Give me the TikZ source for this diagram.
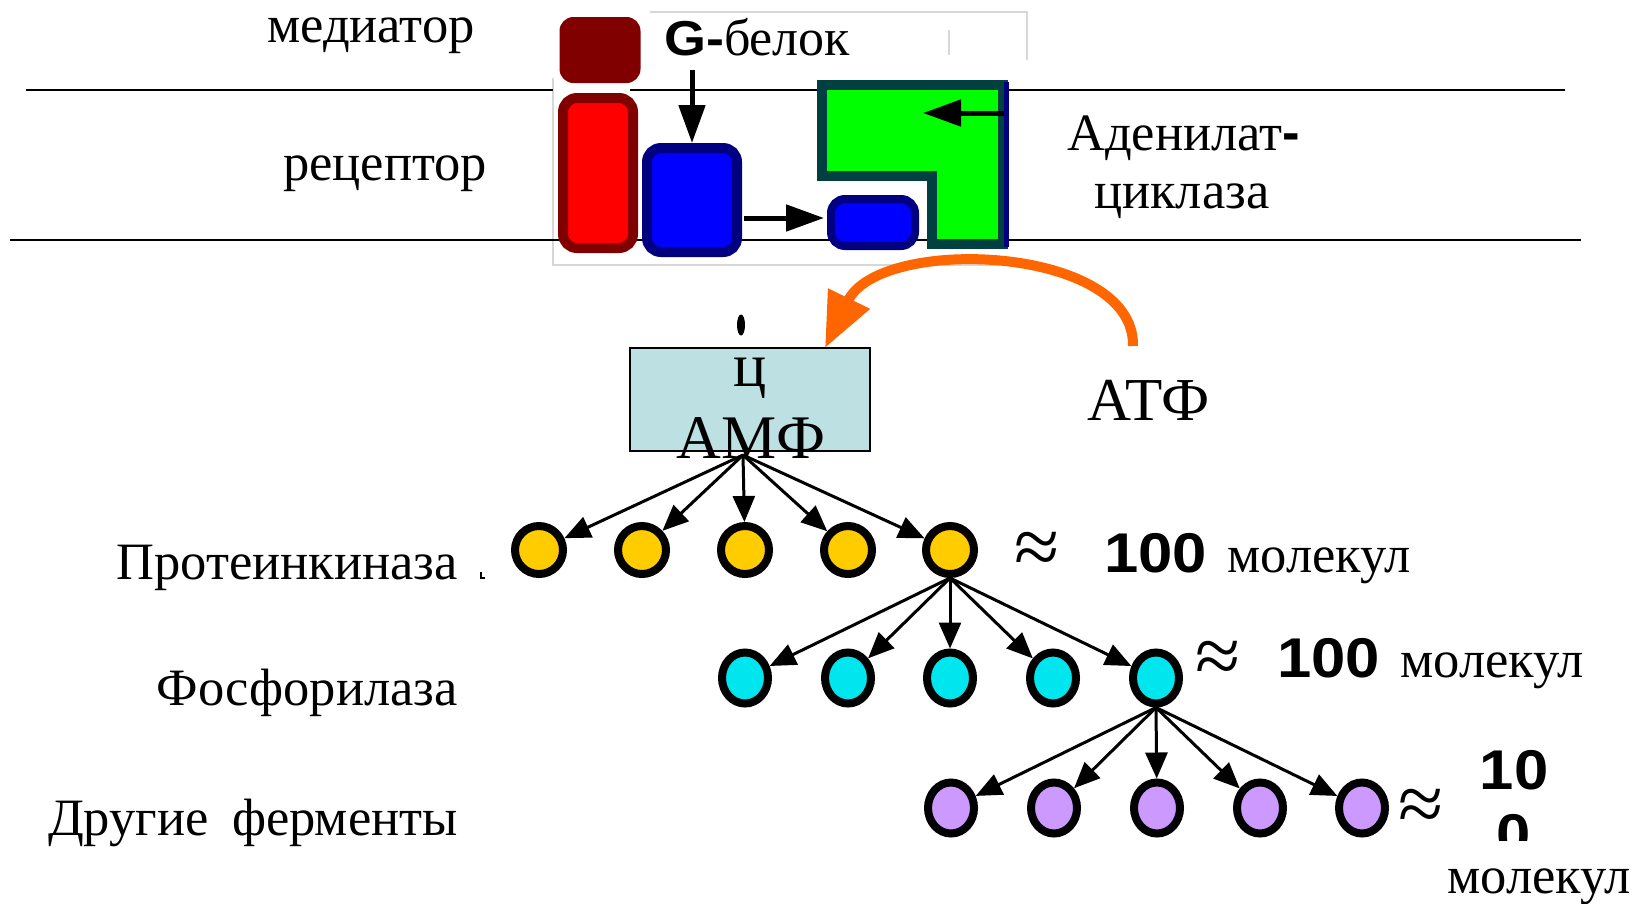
\documentclass[tikz,border=0pt]{standalone}
\usepackage{fontspec}
\setmainfont{Liberation Serif}
\setsansfont{Liberation Sans}
\usetikzlibrary{arrows.meta,shapes.geometric}

\definecolor{medcol}{RGB}{128,0,0}
\definecolor{reccol}{RGB}{255,0,0}
\definecolor{navyc}{RGB}{0,0,128}
\definecolor{bluec}{RGB}{0,0,255}
\definecolor{greenc}{RGB}{0,255,0}
\definecolor{tealc}{RGB}{0,64,64}
\definecolor{campcol}{RGB}{189,224,227}
\definecolor{orangec}{RGB}{255,102,0}
\definecolor{pkcol}{RGB}{255,204,0}
\definecolor{phcol}{RGB}{0,230,238}
\definecolor{encol}{RGB}{204,153,255}
\definecolor{framec}{RGB}{215,215,215}

\newcommand{\widebold}[1]{\scalebox{1.1}[1]{#1}}

\begin{document}
\begin{tikzpicture}[x=1pt,y=-1pt,
  lbl/.style={font=\fontsize{52.5}{60}\selectfont, inner sep=0pt},
  big/.style={font=\fontsize{62}{70}\selectfont, inner sep=0pt},
  num/.style={font=\sffamily\bfseries\fontsize{56}{60}\selectfont, inner sep=0pt},
  apx/.style={font=\fontsize{82}{82}\selectfont, inner sep=0pt},
  pk/.style={circle, draw=black, line width=8pt, fill=pkcol, minimum size=48pt, inner sep=0pt},
  ph/.style={ellipse, draw=black, line width=8pt, fill=phcol, minimum width=46pt, minimum height=51pt, inner sep=0pt},
  en/.style={ellipse, draw=black, line width=8pt, fill=encol, minimum width=46pt, minimum height=51pt, inner sep=0pt},
  cascade/.style={line width=3pt, -{Triangle[length=26pt,width=22pt]}},
  memarr/.style={line width=5pt, -{Triangle[length=38pt,width=26pt]}},
  membrane/.style={line width=2pt, black}
]
\useasboundingbox (0,0) rectangle (1645,903);

% faint frame of the membrane panel
\draw[framec, line width=1.5pt] (553,78) -- (553,265) -- (1000,265);
\draw[framec, line width=1.5pt] (650,12) -- (1027,12) -- (1027,60);
\draw[framec, line width=1.5pt] (949,30) -- (949,55);

% membrane boundaries
\draw[membrane] (26,90) -- (553,90);
\draw[membrane] (630,90) -- (1565,90);
\draw[membrane] (10,240) -- (1581,240);

% mediator, receptor, G protein
\node[fill=medcol, rounded corners=14pt, minimum width=81pt, minimum height=66pt, inner sep=0pt] (med) at (600,50) {};
\node[draw=medcol, fill=reccol, line width=10pt, rounded corners=14pt, minimum width=70pt, minimum height=150pt, inner sep=0pt] (rec) at (598,173) {};
\node[draw=navyc, fill=bluec, line width=10pt, rounded corners=14pt, minimum width=90pt, minimum height=104pt, inner sep=0pt] (gprot) at (692,200) {};
\node[draw=navyc, fill=bluec, line width=8pt, rounded corners=14pt, minimum width=84pt, minimum height=47pt, inner sep=0pt] (gsub) at (873,222.5) {};

% adenylate cyclase
\draw[tealc, fill=greenc, line width=10pt, line join=miter]
  (822,85) -- (1003,85) -- (1003,244) -- (932,244) -- (932,176) -- (822,176) -- cycle;
\draw[navyc, line width=5pt] (1006,82) -- (1006,247);

% arrows inside the membrane
\coordinate (gtop) at (692,70);
\coordinate (gright) at (744,218);
\coordinate (gsubin) at (824,218);
\coordinate (acedge) at (1004,113);
\coordinate (acin) at (923,113);
\draw[memarr] (gtop) -- (gprot.north);
\draw[memarr] (gright) -- (gsubin);
\draw[memarr] (acedge) -- (acin);

% membrane labels
\node[lbl, anchor=base west] (tmed) at (267,42) {медиатор};
\node[lbl, anchor=base west] (trec) at (283,180) {рецептор};
\node[anchor=base west, inner sep=0pt] (tg) at (664,55)
  {{\sffamily\bfseries\fontsize{49}{55}\selectfont\widebold{G-}}{\fontsize{52}{60}\selectfont белок}};
\node[lbl, anchor=base west] (tac1) at (1067,150) {Аденилат{\sffamily\bfseries -}};
\node[lbl, anchor=base west] (tac2) at (1094,208) {циклаза};

% cAMP
\node[draw=black, fill=campcol, line width=2pt, minimum width=240pt, minimum height=103pt, inner sep=0pt] (camp) at (750,399.5) {};
\node[ellipse, fill=black, minimum width=8pt, minimum height=21pt, inner sep=0pt] (mark) at (741,325) {};
\node[big, anchor=base] (tc) at (750,386) {ц};
\node[big, anchor=base] (tamp) at (751,458) {АМФ};

% ATP and its conversion
\node[font=\fontsize{61}{66}\selectfont, inner sep=0pt, anchor=base west] (tatp) at (1087,420) {АТФ};
\coordinate (atpout) at (1133,346);
\coordinate (campin) at (825,348);
\draw[orangec, line width=10pt, -{Triangle[length=55pt,width=44pt]}]
  (atpout) .. controls (1135,245) and (880,235) .. (campin);

% enzyme rows
\foreach \i/\x in {1/539,2/642,3/745,4/848,5/950}
  \node[pk] (k\i) at (\x,550) {};
\foreach \i/\x in {1/745,2/848,3/950,4/1053,5/1156}
  \node[ph] (p\i) at (\x,678) {};
\foreach \i/\x in {1/951,2/1054,3/1157,4/1260,5/1362}
  \node[en] (e\i) at (\x,808) {};

% cascade arrows
\coordinate (campout) at (743,455);
\foreach \i in {1,...,5}
  \draw[cascade] (campout) -- (k\i);
\foreach \i in {1,...,5}
  \draw[cascade] (k5.south) -- (p\i);
\foreach \i in {1,...,5}
  \draw[cascade] (p5.south) -- (e\i);

% row labels
\node[lbl, anchor=base east] (tpk) at (458,579) {Протеинкиназа};
\draw[line width=1.5pt] (481,572) -- (481,578) -- (485,578);
\node[lbl, anchor=base east] (tph) at (458,705) {Фосфорилаза};
\node[lbl, anchor=base east] (ten) at (458,835) {Другие\hspace{0.2em} ферменты};

% amplification counts
\node[apx] (a1) at (1037,553) {≈};
\node[num, anchor=base west] (n1) at (1104,572) {\widebold{100}};
\node[lbl, anchor=base west] (m1) at (1227,572) {молекул};

\node[apx] (a2) at (1218,662) {≈};
\node[num, anchor=base west] (n2) at (1277,677) {\widebold{100}};
\node[lbl, anchor=base west] (m2) at (1400,677) {молекул};

\node[apx] (a3) at (1421,810) {≈};
\node[num, anchor=base] (n3) at (1514,789) {\widebold{10}};
\begin{scope}
  \clip (1470,800) rectangle (1560,840);
  \node[num, anchor=base] (n3b) at (1514,853) {\widebold{0}};
\end{scope}
\node[lbl, anchor=base west] (m3) at (1447,893) {молекул};
\end{tikzpicture}
\end{document}
